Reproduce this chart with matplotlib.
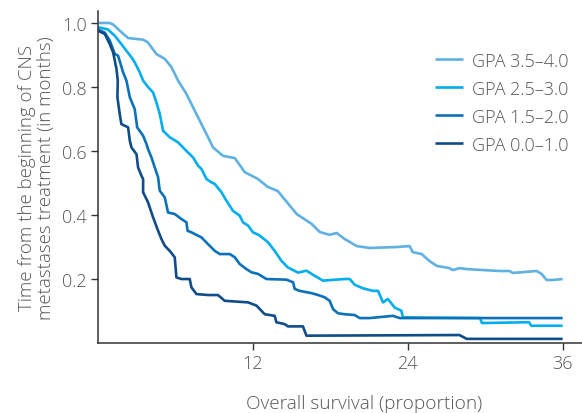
import matplotlib
matplotlib.use("Agg")
import matplotlib.pyplot as plt

# --------------------------------------------------
# Data (months, proportion)
# --------------------------------------------------
labels = ["GPA 3.5–4.0", "GPA 2.5–3.0", "GPA 1.5–2.0", "GPA 0.0–1.0"]
colors = ["#5fb1e2", "#00aeef", "#0b72b9", "#0f4d8a"]

gpa_35_x = [0, 0.93, 1.2, 1.7, 2.35, 3.5, 3.87, 4.54, 5.19, 5.71, 6.22, 6.87, 7.51, 8.03,
            8.54, 8.93, 9.70, 10.61, 11.38, 12.39, 13.16, 13.94, 14.63, 15.41, 16.57, 17.19,
            17.96, 18.50, 19.12, 19.66, 20.05, 21.06, 23.15, 24.15, 24.39, 25.08, 25.70,
            26.25, 27.25, 27.48, 28.03, 28.57, 31.12, 31.90, 32.13, 33.99, 34.37, 34.76,
            35.23, 36.0]
gpa_35_y = [1.0, 1.0, 0.995, 0.976, 0.953, 0.948, 0.94, 0.903, 0.888, 0.862, 0.82, 0.778,
            0.726, 0.684, 0.643, 0.611, 0.585, 0.578, 0.534, 0.513, 0.488, 0.475, 0.441,
            0.403, 0.372, 0.347, 0.338, 0.344, 0.325, 0.3125, 0.303, 0.297, 0.300, 0.303,
            0.284, 0.278, 0.256, 0.241, 0.234, 0.228, 0.234, 0.231, 0.225, 0.225, 0.219,
            0.225, 0.216, 0.197, 0.197, 0.2]

gpa_25_x = [0, 0.77, 1.32, 1.83, 2.22, 2.61, 2.86, 3.25, 3.51, 3.89, 4.28, 4.54, 4.80, 5.06,
            5.57, 6.22, 6.87, 7.38, 7.77, 8.03, 8.42, 8.80, 9.06, 9.58, 9.96, 10.47, 10.99,
            11.25, 11.64, 12.02, 12.5, 13.18, 13.70, 14.22, 14.73, 15.51, 16.16, 16.80,
            17.44, 19.12, 19.51, 19.90, 20.54, 21.31, 21.70, 22.09, 22.47, 22.99, 23.51,
            23.64, 29.6, 29.75, 33.4, 33.57, 36.0]
gpa_25_y = [0.987, 0.98, 0.96, 0.934, 0.913, 0.893, 0.877, 0.846, 0.82, 0.80, 0.783, 0.752,
            0.716, 0.663, 0.643, 0.627, 0.60, 0.58, 0.554, 0.544, 0.5125, 0.502, 0.497,
            0.471, 0.445, 0.413, 0.398, 0.377, 0.367, 0.346, 0.337, 0.315, 0.288, 0.257,
            0.236, 0.22, 0.226, 0.21, 0.195, 0.2, 0.2, 0.182, 0.171, 0.163, 0.163, 0.127,
            0.1375, 0.111, 0.101, 0.08, 0.078, 0.0625, 0.065, 0.054, 0.054]

gpa_15_x = [0, 0.54, 0.93, 1.32, 1.57, 1.96, 2.22, 2.48, 2.86, 2.95, 3.05, 3.51, 3.77, 3.89,
            4.16, 4.41, 4.67, 4.80, 5.19, 5.44, 5.96, 6.48, 6.87, 6.95, 7.25, 8.03, 8.54,
            9.06, 9.45, 9.83, 10.22, 10.61, 10.99, 11.51, 11.90, 12.41, 13.06, 14.61, 15.12,
            15.25, 15.64, 16.54, 17.06, 17.57, 17.96, 18.22, 18.60, 19.12, 19.90, 20.28,
            21.06, 22.86, 23.38, 36.0]
gpa_15_y = [0.98, 0.97, 0.945, 0.903, 0.898, 0.846, 0.82, 0.768, 0.731, 0.705, 0.674, 0.648,
            0.622, 0.606, 0.58, 0.549, 0.518, 0.476, 0.455, 0.408, 0.403, 0.3875, 0.377,
            0.351, 0.346, 0.33, 0.309, 0.288, 0.278, 0.278, 0.278, 0.268, 0.247, 0.231,
            0.221, 0.216, 0.2, 0.198, 0.19, 0.169, 0.163, 0.156, 0.15, 0.143, 0.132, 0.106,
            0.093, 0.09, 0.0875, 0.078, 0.078, 0.085, 0.078, 0.078]

gpa_00_x = [0, 0.54, 0.93, 1.19, 1.45, 1.55, 1.52, 1.70, 1.83, 2.35, 2.48, 2.61, 3.00, 3.12,
            3.38, 3.51, 3.51, 3.89, 4.28, 4.67, 4.93, 5.19, 5.57, 5.96, 6.09, 6.48, 7.12,
            7.25, 7.64, 8.54, 9.31, 9.83, 11.64, 12.29, 12.67, 12.93, 13.70, 13.83, 14.48,
            14.73, 15.89, 16.16, 28.0, 28.57, 36.0]
gpa_00_y = [0.976, 0.966, 0.934, 0.908, 0.856, 0.82, 0.768, 0.716, 0.684, 0.674, 0.632,
            0.611, 0.59, 0.549, 0.523, 0.5125, 0.471, 0.44, 0.393, 0.351, 0.325, 0.304,
            0.288, 0.268, 0.205, 0.2, 0.2, 0.174, 0.153, 0.15, 0.15, 0.132, 0.127, 0.117,
            0.101, 0.09, 0.085, 0.065, 0.059, 0.052, 0.052, 0.023, 0.025, 0.013, 0.013]

series = [(gpa_35_x, gpa_35_y), (gpa_25_x, gpa_25_y), (gpa_15_x, gpa_15_y), (gpa_00_x, gpa_00_y)]

x_ticks = [12, 24, 36]
y_ticks = [0.2, 0.4, 0.6, 0.8, 1.0]

# --------------------------------------------------
# Plot
# --------------------------------------------------
plt.rcParams["font.family"] = ["Open Sans", "DejaVu Sans"]
plt.rcParams["font.weight"] = "light"
plt.rcParams["axes.labelweight"] = "light"
text_color = "#555555"

fig = plt.figure(figsize=(5.82, 4.14), dpi=100)
ax = fig.add_axes([0.168, 0.169, 0.832, 0.802])

for (xs, ys), label, color in zip(series, labels, colors):
    ax.plot(xs, ys, color=color, lw=1.9, label=label,
            solid_joinstyle="round", solid_capstyle="butt")

ax.set_xlim(0, 37.5)
ax.set_ylim(0, 1.0375)
ax.set_xticks(x_ticks)
ax.set_yticks(y_ticks)
ax.set_yticklabels([f"{v:.1f}" for v in y_ticks])

for side in ["top", "right"]:
    ax.spines[side].set_visible(False)
for side in ["left", "bottom"]:
    ax.spines[side].set_color("#333333")
    ax.spines[side].set_linewidth(1.1)

ax.tick_params(axis="both", direction="out", length=5, width=1, color="#333333",
               labelsize=13, labelcolor=text_color, pad=3)

ax.set_xlabel("Overall survival (proportion)", fontsize=13.7, color=text_color)
ax.xaxis.set_label_coords(0.55, -0.155)
ax.set_ylabel("Time from the beginning of CNS\nmetastases treatment (in months)",
              fontsize=13.4, color=text_color, labelpad=5, linespacing=1.05)

leg = ax.legend(loc="center left", bbox_to_anchor=(0.696, 0.724), frameon=False,
                fontsize=13, handlelength=1.55, handletextpad=0.5, labelspacing=0.55,
                borderpad=0, borderaxespad=0)
for t in leg.get_texts():
    t.set_color(text_color)

fig.savefig("out.png", dpi=100)
